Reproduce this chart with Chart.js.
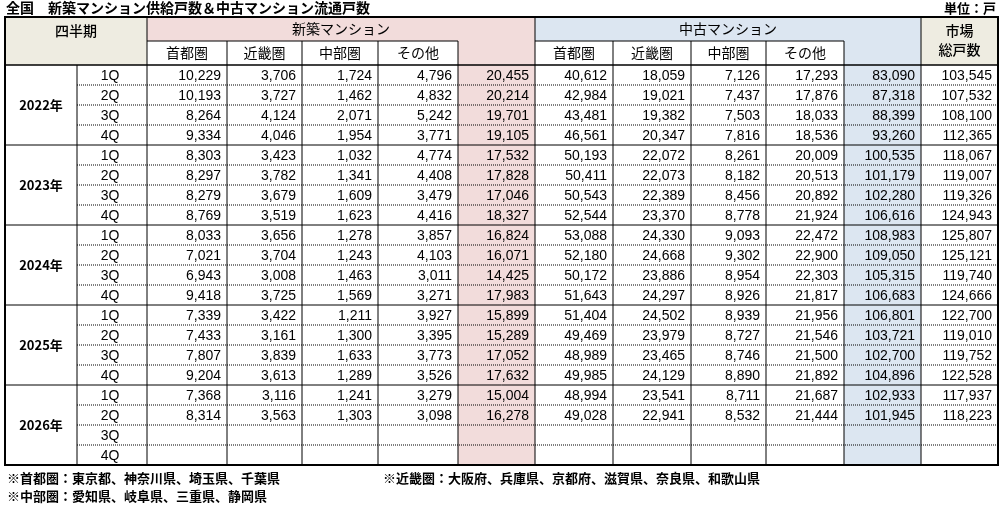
<!DOCTYPE html>
<html><head><meta charset="utf-8">
<script src="https://cdn.jsdelivr.net/npm/chart.js@4"></script>
<style>html,body{margin:0;padding:0;background:#fff}</style>
</head><body>
<canvas id="c" width="1008" height="510"></canvas>
<script>
const title = "全国　新築マンション供給戸数＆中古マンション流通戸数";
const unitLabel = "単位：戸";
const years = ["2022年","2023年","2024年","2025年","2026年"];
const quarters = ["1Q","2Q","3Q","4Q"];
const regions = ["首都圏","近畿圏","中部圏","その他"];
const newShuto = [10229,10193,8264,9334, 8303,8297,8279,8769, 8033,7021,6943,9418, 7339,7433,7807,9204, 7368,8314,null,null];
const newKinki = [3706,3727,4124,4046, 3423,3782,3679,3519, 3656,3704,3008,3725, 3422,3161,3839,3613, 3116,3563,null,null];
const newChubu = [1724,1462,2071,1954, 1032,1341,1609,1623, 1278,1243,1463,1569, 1211,1300,1633,1289, 1241,1303,null,null];
const newOther = [4796,4832,5242,3771, 4774,4408,3479,4416, 3857,4103,3011,3271, 3927,3395,3773,3526, 3279,3098,null,null];
const newTotal = [20455,20214,19701,19105, 17532,17828,17046,18327, 16824,16071,14425,17983, 15899,15289,17052,17632, 15004,16278,null,null];
const usedShuto = [40612,42984,43481,46561, 50193,50411,50543,52544, 53088,52180,50172,51643, 51404,49469,48989,49985, 48994,49028,null,null];
const usedKinki = [18059,19021,19382,20347, 22072,22073,22389,23370, 24330,24668,23886,24297, 24502,23979,23465,24129, 23541,22941,null,null];
const usedChubu = [7126,7437,7503,7816, 8261,8182,8456,8778, 9093,9302,8954,8926, 8939,8727,8746,8890, 8711,8532,null,null];
const usedOther = [17293,17876,18033,18536, 20009,20513,20892,21924, 22472,22900,22303,21817, 21956,21546,21500,21892, 21687,21444,null,null];
const usedTotal = [83090,87318,88399,93260, 100535,101179,102280,106616, 108983,109050,105315,106683, 106801,103721,102700,104896, 102933,101945,null,null];
const marketTotal = [103545,107532,108100,112365, 118067,119007,119326,124943, 125807,125121,119740,124666, 122700,119010,119752,122528, 117937,118223,null,null];
const notes = ["※首都圏：東京都、神奈川県、埼玉県、千葉県","※近畿圏：大阪府、兵庫県、京都府、滋賀県、奈良県、和歌山県","※中部圏：愛知県、岐阜県、三重県、静岡県"];

const valueCols = [newShuto,newKinki,newChubu,newOther,newTotal,usedShuto,usedKinki,usedChubu,usedOther,usedTotal,marketTotal];
const colW = [72,70,80,75,76,80,77,78,78,75,78,77,77];
const edges = [0]; colW.forEach(w=>edges.push(edges[edges.length-1]+w));
const HDR = 1.2;
const nRows = years.length*quarters.length;
const PINK="#f2dcdb", BLUE="#dce6f1", BEIGE="#eeece1";
const JP = '"Noto Sans CJK JP", sans-serif';
const NUM = '"Liberation Sans", Arial, sans-serif';

const tablePlugin = {
  id:'table',
  afterDraw(chart){
    const {ctx, scales:{x,y}} = chart;
    const X = u => x.getPixelForValue(u);
    const Y = u => y.getPixelForValue(u);
    const rowTop = r => Y(2*HDR + r), rowBot = r => Y(2*HDR + r + 1);
    const rect=(c0,c1,y0,y1,fill)=>{ctx.fillStyle=fill;ctx.fillRect(X(edges[c0]),y0,X(edges[c1])-X(edges[c0]),y1-y0);};
    const line=(x0,y0,x1,y1,w,dash)=>{ctx.save();ctx.strokeStyle="#000";ctx.lineWidth=w;ctx.setLineDash(dash||[]);ctx.beginPath();ctx.moveTo(x0,y0);ctx.lineTo(x1,y1);ctx.stroke();ctx.restore();};
    const txt=(s,px,py,font,align)=>{ctx.fillStyle="#000";ctx.font=font;ctx.textAlign=align||"center";ctx.textBaseline="middle";ctx.fillText(s,px,py);};
    const yT=Y(0), yH=Y(HDR), yD=Y(2*HDR), yB=Y(2*HDR+nRows);
    ctx.save();
    rect(0,2,yT,yD,BEIGE); rect(2,7,yT,yD,PINK); rect(7,12,yT,yD,BLUE); rect(12,13,yT,yD,BEIGE);
    rect(2,6,yH,yD,"#fff"); rect(7,11,yH,yD,"#fff");
    rect(6,7,yD,yB,PINK); rect(11,12,yD,yB,BLUE);
    txt("四半期",(X(edges[0])+X(edges[2]))/2,(yT+yH)/2+2,"500 14px "+JP);
    txt("新築マンション",(X(edges[2])+X(edges[7]))/2,(yT+yH)/2,"14px "+JP);
    txt("中古マンション",(X(edges[7])+X(edges[12]))/2,(yT+yH)/2,"14px "+JP);
    txt("市場",(X(edges[12])+X(edges[13]))/2,yT+14,"500 14px "+JP);
    txt("総戸数",(X(edges[12])+X(edges[13]))/2,yT+33,"500 14px "+JP);
    regions.forEach((r,i)=>{
      txt(r,(X(edges[2+i])+X(edges[3+i]))/2,(yH+yD)/2,"14px "+JP);
      txt(r,(X(edges[7+i])+X(edges[8+i]))/2,(yH+yD)/2,"14px "+JP);
    });
    for(let r=0;r<nRows;r++){
      const cy=(rowTop(r)+rowBot(r))/2+1;
      txt(quarters[r%4],(X(edges[1])+X(edges[2]))/2-2,cy,"14px "+NUM);
      valueCols.forEach((col,ci)=>{
        const v=col[r]; if(v==null) return;
        txt(v.toLocaleString("en-US"),X(edges[ci+3])-6,cy,"14px "+NUM,"right");
      });
    }
    years.forEach((yr,i)=>txt(yr,(X(edges[0])+X(edges[1]))/2,(rowTop(i*4)+rowBot(i*4+3))/2,"bold 13px "+JP));
    for(let r=1;r<nRows;r++){
      if(r%4===0) line(X(edges[0]),rowTop(r),X(edges[13]),rowTop(r),1);
      else line(X(edges[1]),rowTop(r),X(edges[13]),rowTop(r),1,[1,1]);
    }
    line(X(edges[0]),yD,X(edges[13]),yD,1.5);
    line(X(edges[2]),yH,X(edges[6]),yH,1);
    line(X(edges[7]),yH,X(edges[11]),yH,1);
    for(let c=1;c<13;c++){
      let y0 = yT;
      if([3,4,5,6,8,9,10,11].includes(c)) y0=yH;
      if(c===1) y0=yD;
      line(X(edges[c]),y0,X(edges[c]),yB,1);
    }
    ctx.strokeStyle="#000";ctx.lineWidth=2;ctx.strokeRect(X(edges[0]),yT,X(edges[13])-X(edges[0]),yB-yT);
    txt(title,X(edges[0])+1,yT-9,"bold 14px "+JP,"left");
    txt(unitLabel,X(edges[13])-2,yT-9,"bold 13px "+JP,"right");
    txt(notes[0],X(edges[0])+2,yB+13,"bold 13px "+JP,"left");
    txt(notes[1],X(edges[0])+378,yB+13,"bold 13px "+JP,"left");
    txt(notes[2],X(edges[0])+2,yB+31,"bold 13px "+JP,"left");
    ctx.restore();
  }
};

new Chart(document.getElementById("c"),{
  type:"scatter",
  data:{datasets:[{data:[],pointRadius:0}]},
  options:{
    responsive:false, animation:false, devicePixelRatio:1,
    layout:{padding:{left:5,right:10,top:17,bottom:45}},
    plugins:{legend:{display:false},tooltip:{enabled:false}},
    scales:{
      x:{type:"linear",min:0,max:edges[edges.length-1],display:false},
      y:{type:"linear",reverse:true,min:0,max:2*HDR+nRows,display:false}
    }
  },
  plugins:[tablePlugin]
});
</script>
</body></html>
